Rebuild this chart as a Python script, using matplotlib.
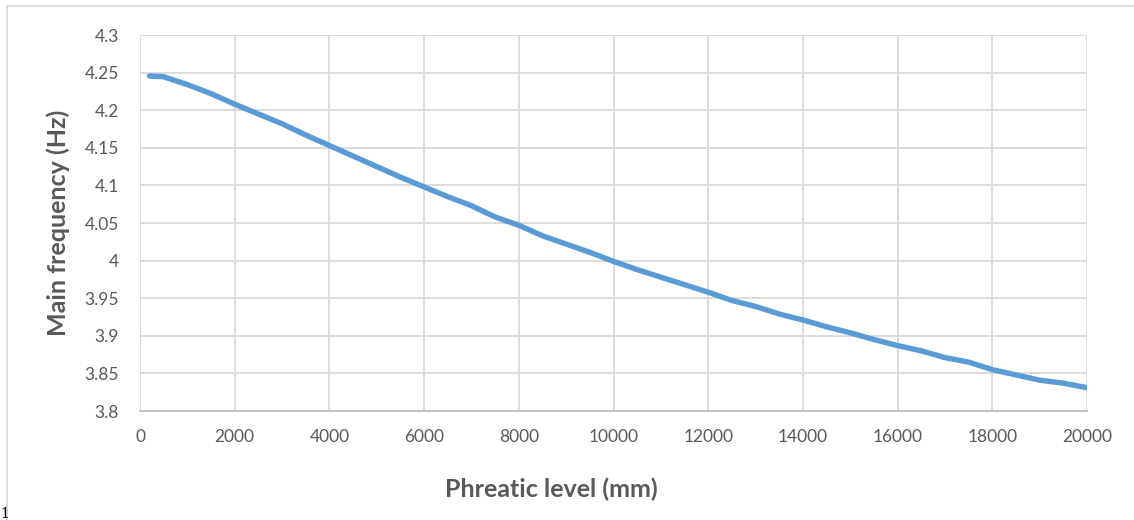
import matplotlib
matplotlib.use('Agg')
from matplotlib import pyplot as plt
from matplotlib.patches import Rectangle

# phreatic level (mm) and main frequency (Hz)
level = [200, 500, 1000, 1500, 2000, 2500, 3000, 3500, 4000, 4500, 5000,
         5500, 6000, 6500, 7000, 7500, 8000, 8500, 9000, 9500, 10000,
         10500, 11000, 11500, 12000, 12500, 13000, 13500, 14000, 14500, 15000,
         15500, 16000, 16500, 17000, 17500, 18000, 18500, 19000, 19500, 20000]
freq = [4.2455, 4.2445, 4.234, 4.222, 4.208, 4.195, 4.182, 4.167, 4.153, 4.139, 4.125,
        4.111, 4.098, 4.085, 4.073, 4.058, 4.047, 4.033, 4.022, 4.011, 3.999,
        3.988, 3.978, 3.968, 3.958, 3.947, 3.939, 3.929, 3.921, 3.912, 3.904,
        3.895, 3.887, 3.880, 3.871, 3.865, 3.855, 3.848, 3.841, 3.837, 3.831]

x_ticks = list(range(0, 20001, 2000))
y_ticks = [3.8, 3.85, 3.9, 3.95, 4.0, 4.05, 4.1, 4.15, 4.2, 4.25, 4.3]
y_labels = ['3.8', '3.85', '3.9', '3.95', '4', '4.05', '4.1', '4.15', '4.2', '4.25', '4.3']

W, H = 1134, 520
fig = plt.figure(figsize=(W / 100, H / 100), dpi=100)
ax = fig.add_axes([140 / W, 1 - 411 / H, (1087 - 140) / W, (411 - 35) / H])

ax.plot(level, freq, color='#5B9BD5', lw=3.9, solid_capstyle='round', zorder=3)

ax.set_xlim(0, 20000)
ax.set_ylim(3.8, 4.3)
ax.set_xticks(x_ticks)
ax.set_xticklabels([str(t) for t in x_ticks])
ax.set_yticks(y_ticks)
ax.set_yticklabels(y_labels)
ax.grid(True, color='#D9D9D9', lw=1.3)
ax.set_axisbelow(True)
for s in ax.spines.values():
    s.set_visible(False)
ax.spines['bottom'].set_visible(True)
ax.spines['bottom'].set_color('#BFBFBF')
ax.spines['bottom'].set_linewidth(1.3)
ax.tick_params(length=0, labelsize=12.5, labelcolor='#595959')
ax.tick_params(axis='x', pad=13)
ax.tick_params(axis='y', pad=15)
for lab in ax.get_xticklabels() + ax.get_yticklabels():
    lab.set_fontfamily('Lato')

ax.set_xlabel('Phreatic level (mm)', fontsize=18, fontweight='bold', color='#595959',
              family='Lato', va='center')
ax.set_ylabel('Main frequency (Hz)', fontsize=18, fontweight='bold', color='#595959',
              family='Lato', va='center')
# excel centres the x title on the chart area, not on the plot area
ax.xaxis.set_label_coords((551 - 140) / 947, (411 - 489) / 376)
ax.yaxis.set_label_coords((58 - 140) / 947, 0.5)

# chart border, cut off at right and bottom like the picture
fig.patches.append(Rectangle((7 / W, -0.1), 1.2, 1 - 6 / H + 0.1, transform=fig.transFigure,
                             fill=False, edgecolor='#D9D9D9', lw=1.3))
fig.text(0.0, 0.004, '1', family='DejaVu Serif', fontsize=10, color='black')

fig.savefig('out.png', dpi=100)
